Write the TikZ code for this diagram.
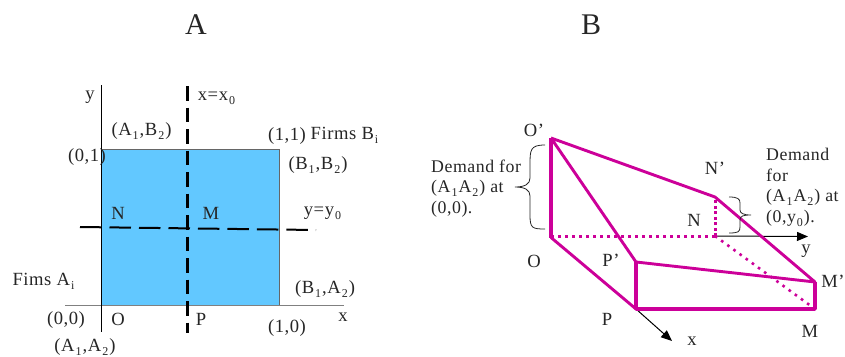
\documentclass[tikz,border=0pt]{standalone}
\usepackage{fontspec}
\setmainfont[LetterSpace=3]{Liberation Serif}
\usetikzlibrary{arrows.meta}
\definecolor{sqblue}{RGB}{98,200,255}
\definecolor{mag}{RGB}{204,0,153}
\newcommand{\sbs}[1]{\kern1pt\raisebox{-4pt}{\fontsize{12}{13}\selectfont #1}\kern1pt}
\tikzset{
  lab/.style={inner sep=0pt,font=\fontsize{18.6}{21}\selectfont,text=black!85},
  dem/.style={inner sep=0pt,anchor=west,font=\fontsize{17.8}{20}\selectfont,text=black!85},
  ttl/.style={inner sep=0pt,font=\fontsize{30}{33}\selectfont,text=black!85},
  axisl/.style={line width=1pt,black},
  axisg/.style={line width=1.2pt,black!50},
  dashv/.style={line width=2.8pt,black,dash pattern=on 14.5pt off 7pt},
  dashh/.style={line width=2pt,black,dash pattern=on 21.5pt off 8pt},
  thick mag/.style={line width=2.9pt,mag,line join=round},
  heavy mag/.style={line width=3.6pt,mag,line join=round},
  dot mag/.style={line width=3pt,mag,dash pattern=on 3pt off 4pt},
  thin arrow/.style={line width=1pt,black,-{Triangle[length=11pt,width=9pt]}},
  brace/.style={line width=0.8pt,black!85}
}
\begin{document}
\begin{tikzpicture}[x=1pt,y=-1pt]
\useasboundingbox (0,0) rectangle (845,356);
% Panel A
\coordinate (sqTL) at (101,149);
\coordinate (sqBR) at (279,305.5);
\coordinate (yTop) at (101,85);
\coordinate (yBot) at (101,332);
\coordinate (xLeft) at (65,305.5);
\coordinate (xRight) at (344,305.5);
\coordinate (vTop) at (187.5,86);
\coordinate (vBot) at (187.5,333);
\coordinate (hLeft) at (80,227);
\coordinate (hRight) at (316,230);
\fill[sqblue] (sqTL) rectangle (sqBR);
\draw[line width=1pt,black!60] (sqTL) -| (sqBR);
\draw[axisg] (xLeft) -- (xRight);
\draw[axisl] (yTop) -- (yBot);
\draw[dashv] (vTop) -- (vBot);
\draw[dashh] (hLeft) -- (hRight);
\node[ttl] (tA) at (196,25) {A};
\node[ttl] (tB) at (591,25) {B};
\node[lab] (ly) at (90,97) {y};
\node[lab] (lx0) at (217,98) {x=x\sbs{0}};
\node[lab] (la1b2) at (141.5,131) {(A\sbs{1},B\sbs{2})};
\node[lab] (l11) at (287,136) {(1,1)};
\node[lab] (lfb) at (345,135) {Firms B\sbs{i}};
\node[lab] (l01) at (87,157) {(0,1)};
\node[lab] (lb1b2) at (318,165) {(B\sbs{1},B\sbs{2})};
\node[lab] (lN) at (118,213) {N};
\node[lab] (lM) at (211,213) {M};
\node[lab] (lyy0) at (323,213) {y=y\sbs{0}};
\node[lab] (lfa) at (44,281) {Fims A\sbs{i}};
\node[lab] (lb1a2) at (325,289) {(B\sbs{1},A\sbs{2})};
\node[lab] (l00) at (66,320) {(0,0)};
\node[lab] (lO) at (118,319) {O};
\node[lab] (lP) at (201,319) {P};
\node[lab] (l10) at (287,328) {(1,0)};
\node[lab] (lx) at (343,317) {x};
\node[lab] (la1a2) at (85,347) {(A\sbs{1},A\sbs{2})};
% Panel B
\coordinate (O1) at (551,138);
\coordinate (O) at (551,237.5);
\coordinate (N1) at (715,197);
\coordinate (N) at (715,236);
\coordinate (M1) at (815,282);
\coordinate (M) at (815,309);
\coordinate (P) at (636,309);
\coordinate (P1) at (636,262);
\coordinate (yEnd) at (808,236.5);
\coordinate (xEnd) at (672,341);
\draw[thin arrow] (N) -- (yEnd);
\draw[thin arrow] (P) -- (xEnd);
\draw[dot mag] (O |- N) -- (N);
\draw[dot mag,line width=2.6pt,dash pattern=on 2.6pt off 5pt] (N) -- (M);
\draw[dot mag,dash pattern=on 3pt off 2.5pt] (N) -- (N1);
\draw[thick mag] (O1) -- (N1) -- (M1) -- (P1) -- (O1);
\draw[thick mag] (O) -- (P);
\draw[heavy mag] (O) -- (O1);
\draw[heavy mag] (P1) -- (P) -- (M) -- (M1);
% Braces
\draw[brace] (545,145) .. controls (530,145) and (530,150) .. (530,165) -- (530,178) .. controls (530,184) and (525,187) .. (515,187) .. controls (525,187) and (530,190) .. (530,196) -- (530,215) .. controls (530,228) and (532,229) .. (545,229);
\draw[brace] (729,197) .. controls (738,197) and (740,199) .. (740,203) -- (740,210) .. controls (740,213) and (743,215) .. (751,215) .. controls (743,215) and (740,216) .. (740,220) -- (740,227) .. controls (740,232) and (738,233) .. (729,233);
\node[lab] (lO1) at (534,130) {O’};
\node[dem] (ld1) at (431,166.5) {Demand for};
\node[dem] (ld2) at (431,188) {(A\sbs{1}A\sbs{2}) at};
\node[dem] (ld3) at (431,209) {(0,0).};
\node[lab] (lN1) at (715,168) {N’};
\node[lab] (lN2) at (694,220) {N};
\node[dem] (ld4) at (766,154) {Demand};
\node[dem] (ld5) at (766,175) {for};
\node[dem] (ld6) at (766,197) {(A\sbs{1}A\sbs{2}) at};
\node[dem] (ld7) at (766,218) {(0,y\sbs{0}).};
\node[lab] (ly2) at (806,251) {y};
\node[lab] (lO2) at (534,261) {O};
\node[lab] (lP1) at (611,260) {P’};
\node[lab] (lM1) at (833,281) {M’};
\node[lab] (lP2) at (607,319) {P};
\node[lab] (lM2) at (810,331) {M};
\node[lab] (lx2) at (692,341) {x};
\end{tikzpicture}
\end{document}
